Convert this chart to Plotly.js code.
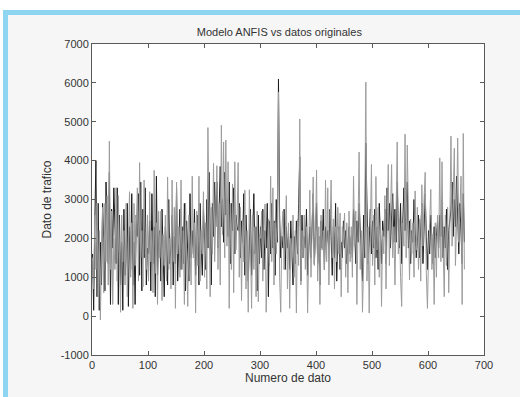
<!DOCTYPE html>
<html><head><meta charset="utf-8">
<script src="https://cdn.plot.ly/plotly-3.0.1.min.js"></script>
<style>
html,body{margin:0;padding:0;background:#ffffff;width:520px;height:397px;overflow:hidden;}
#frame{position:absolute;left:3px;top:10px;width:512px;height:382px;border-left:5px solid #8ed5f2;border-top:5px solid #8ed5f2;background:#f6f6f6;}
#chart{width:512px;height:382px;}
</style></head>
<body>
<div id="frame"><div id="chart"></div></div>
<script>
// Data index (every second sample, 1..665)
const dataIndex = [];
for (let i = 1; i <= 665; i += 2) dataIndex.push(i);

// Original traffic data (gray)
const datosOriginales = [
1500,700,2600,1200,2900,500,2200,-100,1700,2800,
600,2900,1400,3100,800,4500,1200,2700,300,2000,
1200,3300,900,3100,1600,100,2600,1400,2200,800,
2900,500,1800,3200,1000,2400,200,2900,1300,2100,
3300,900,3950,1500,2200,750,3500,1800,1200,2600,
900,3200,1400,2200,600,3750,1100,2400,300,2700,
1500,2700,400,2100,1300,2600,900,3580,1200,2000,
700,3500,1400,2800,200,3450,1600,2300,1000,3500,
1200,2200,300,2900,1500,250,2600,1800,800,3600,
1500,2400,80,2700,1300,3600,900,2200,1600,3200,
1000,2400,700,4850,2100,500,2800,1600,3930,1400,
2600,3870,1200,2900,800,4910,2100,4480,1500,4530,
1800,3970,200,2900,1200,3400,600,3970,1700,2500,
3950,1000,2800,400,2500,1400,3240,700,2200,100,
3250,1500,200,2600,1200,2300,500,2700,370,2100,
2000,2700,900,2200,2880,100,1800,2500,1300,3600,
1400,3300,800,2400,1600,2300,5760,1000,100,2200,
2700,1200,2100,3100,700,2400,200,2000,1500,2600,
1000,2200,80,2500,1300,5070,800,2200,1500,2600,
1200,2300,80,2000,3240,1000,2600,3580,1300,2000,
3760,900,2300,300,2600,1700,2200,1200,3500,1400,
3300,800,2200,3500,1500,2500,700,2300,1400,2800,
1600,2650,500,2300,1900,2650,1000,2400,600,2700,
1400,2300,1000,3600,1800,2700,300,2300,4220,1200,
2200,100,1700,2500,6020,900,2300,80,2100,3900,
1300,2600,800,3590,1700,2800,1000,2400,250,2200,
1600,3100,700,2500,3900,1300,2800,3900,1500,2300,
800,2700,4480,1600,2500,1000,250,2400,1800,4680,
1500,4400,2200,930,2500,1600,2400,1000,3220,1700,
2800,1200,2500,900,3380,1800,3000,3700,1100,200,
1600,2300,3260,1200,2100,300,2400,1000,2600,1500,
4070,1400,3970,1800,500,2600,1300,2800,600,2300,
4630,1800,3000,4320,1300,2400,4580,1900,2700,3600,
300,4700,1200
];

// ANFIS model output (black)
const modeloANFIS = [
1600,150,2450,4000,500,2900,150,1900,800,2900,
1900,650,3450,2300,1350,3700,300,2750,1750,3300,
2450,1350,3300,300,2600,800,1900,150,2750,1050,
1500,2900,250,2300,1200,3150,800,1900,300,2600,
2050,3150,1050,3450,650,2750,1500,3300,800,1750,
1600,2450,650,3150,1350,2300,500,3600,1050,2050,
2200,900,2750,1500,500,2300,1750,800,3000,1350,
1750,2600,800,2050,1350,3300,900,1900,2750,1200,
2300,1350,2900,650,2450,1600,900,3150,1500,2200,
1600,2750,1050,2050,2600,800,2900,1750,1050,2750,
2050,1200,3000,1750,3700,2450,800,2900,2050,3450,
2300,3450,1750,2750,3850,2300,3000,1900,3700,2600,
3000,2050,3450,1350,2900,2200,3300,1600,2600,2300,
2200,2900,1500,2450,1900,3150,1050,2600,1750,900,
1900,2750,1050,2050,3150,1600,2300,650,2600,1350,
2300,1500,2750,1200,2200,1750,2900,500,2450,1600,
2900,1750,2450,1050,3000,1900,6100,2600,1500,2050,
1750,2750,1200,2300,1750,2050,1200,2450,1600,800,
2050,1350,2450,1600,2900,4100,900,2600,1500,2050,
1750,2750,1050,1900,2300,1500,2600,3150,1350,2200,
2900,1350,2050,800,2450,1750,2750,1200,2300,1900,
2200,1600,2750,2050,1050,2300,1500,2900,900,1900,
2300,1200,1900,1500,2450,1750,2200,1350,2050,2300,
1600,2050,1500,2750,2200,1350,2450,1900,2900,2050,
1750,900,2600,1500,4450,2300,1350,1900,2750,1600,
2450,1750,2750,1500,2300,1200,2900,2050,1350,2450,
2050,2750,1350,3300,2200,2900,1750,2600,3150,1900,
2750,1900,3450,2300,1750,2900,1350,2450,3300,2200,
2900,3450,1750,2450,1350,2200,1900,3000,2300,1500,
1900,2600,1500,2200,2900,1350,2450,3150,2050,1200,
2200,1600,2600,1900,1350,2300,1500,2050,2450,1750,
2600,2050,3000,1500,2300,1750,2750,1200,2200,2450,
2750,3450,2050,3000,2300,3600,2600,1600,2900,2050,
1350,3150,1900
];

const xTicks = [0,100,200,300,400,500,600,700];
const yTicks = [-1000,0,1000,2000,3000,4000,5000,6000,7000];

const traces = [
  {x: dataIndex, y: modeloANFIS, type: 'scatter', mode: 'lines', name: 'Modelo ANFIS',
   line: {color: '#1e1e1e', width: 1}},
  {x: dataIndex, y: datosOriginales, type: 'scatter', mode: 'lines', name: 'Datos originales',
   line: {color: '#9c9c9c', width: 1}}
];

const axisCommon = {
  showgrid: false, zeroline: false, showline: true, linecolor: '#5a5a5a', linewidth: 1,
  mirror: 'allticks', ticks: 'inside', ticklen: 4, tickcolor: '#5a5a5a',
  tickfont: {family: 'Liberation Sans, Arial, sans-serif', size: 11, color: '#333'}
};

const layout = {
  width: 512, height: 382,
  paper_bgcolor: '#f6f6f6', plot_bgcolor: '#ffffff',
  margin: {l: 84, r: 36, t: 29, b: 42},
  showlegend: false,
  title: {text: 'Modelo ANFIS vs datos originales', x: 0.53, xanchor: 'center',
          y: 1 - 17/382, yanchor: 'middle', yref: 'container',
          font: {family: 'Liberation Sans, Arial, sans-serif', size: 11, color: '#333'}},
  xaxis: Object.assign({}, axisCommon, {range: [0, 700], tickvals: xTicks, ticktext: xTicks.map(String),
    title: {text: 'Numero de dato', standoff: 2, font: {family: 'Liberation Sans, Arial, sans-serif', size: 12, color: '#333'}}}),
  yaxis: Object.assign({}, axisCommon, {range: [-1000, 7000], tickvals: yTicks, ticktext: yTicks.map(String),
    title: {text: 'Dato de trafico', standoff: 6, font: {family: 'Liberation Sans, Arial, sans-serif', size: 12, color: '#333'}}})
};

Plotly.newPlot('chart', traces, layout, {displayModeBar: false, staticPlot: true});
</script>
</body></html>
